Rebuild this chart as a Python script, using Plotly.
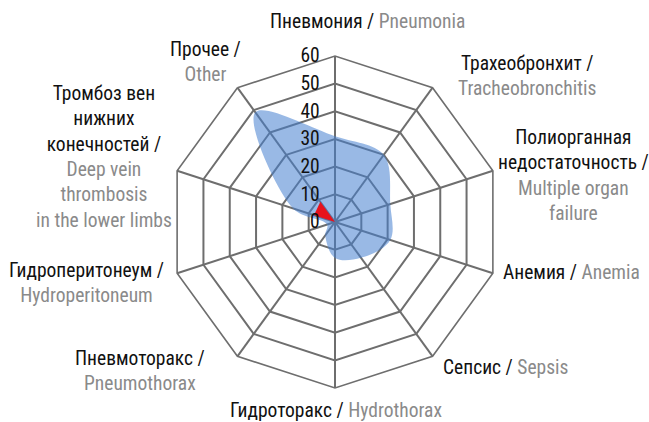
import plotly.graph_objects as go

# Complication categories, clockwise from the top
categories_ru = ["Пневмония", "Трахеобронхит", "Полиорганная недостаточность", "Анемия",
                 "Сепсис", "Гидроторакс", "Пневмоторакс", "Гидроперитонеум",
                 "Тромбоз вен нижних конечностей", "Прочее"]
categories_en = ["Pneumonia", "Tracheobronchitis", "Multiple organ failure", "Anemia",
                 "Sepsis", "Hydrothorax", "Pneumothorax", "Hydroperitoneum",
                 "Deep vein thrombosis in the lower limbs", "Other"]

# Two series of values (%)
series_blue = [31, 30, 21, 21, 16, 13, 6, 3, 16, 49]
series_red = [0, 0, 0, 0, 0, 0, 0, 0, 8, 9]

radial_ticks = [0, 10, 20, 30, 40, 50, 60]

# Line-broken label texts: Russian part in black, English part in grey
label_lines_ru = [["Пневмония /"], ["Трахеобронхит /"], ["Полиорганная", "недостаточность /"],
                  ["Анемия /"], ["Сепсис /"], ["Гидроторакс /"], ["Пневмоторакс /"],
                  ["Гидроперитонеум /"], ["Тромбоз вен", "нижних", "конечностей /"], ["Прочее /"]]
label_lines_en = [["Pneumonia"], ["Tracheobronchitis"], ["Multiple organ", "failure"],
                  ["Anemia"], ["Sepsis"], ["Hydrothorax"], ["Pneumothorax"],
                  ["Hydroperitoneum"], ["Deep vein", "thrombosis", "in the lower limbs"], ["Other"]]
single_line = [True, False, False, True, True, True, False, False, False, False]

W, H = 649, 422
FONT = "Roboto Condensed, Liberation Sans Narrow, Roboto, sans-serif"
FS = 19.5
GRID = "#6e6e6e"
GREY_TXT = "#8a8a8a"

theta = categories_en + [categories_en[0]]

fig = go.Figure()
fig.add_trace(go.Scatterpolar(
    r=series_blue + [series_blue[0]], theta=theta,
    mode="lines", fill="toself",
    line=dict(shape="spline", smoothing=1, width=0, color="rgba(0,0,0,0)"),
    fillcolor="rgba(70,128,208,0.55)",
    name="blue", hoverinfo="skip"))
fig.add_trace(go.Scatterpolar(
    r=series_red + [series_red[0]], theta=theta,
    mode="lines", fill="toself",
    line=dict(width=0, color="rgba(0,0,0,0)"),
    fillcolor="#e8121c",
    name="red", hoverinfo="skip"))

# Polar area: center (335, 222) px, radius 166 px
cx, cy, R = 335, 222, 166
dom_x = [(cx - R) / W, (cx + R) / W]
dom_y = [1 - (cy + R) / H, 1 - (cy - R) / H]

fig.update_layout(
    width=W, height=H,
    margin=dict(l=0, r=0, t=0, b=0),
    paper_bgcolor="white", plot_bgcolor="white",
    showlegend=False,
    font=dict(family=FONT, size=FS, color="#111"),
    polar=dict(
        domain=dict(x=dom_x, y=dom_y),
        bgcolor="white",
        gridshape="linear",
        angularaxis=dict(
            direction="clockwise", rotation=90,
            categoryorder="array", categoryarray=categories_en,
            showticklabels=False, ticks="",
            gridcolor=GRID, gridwidth=1.6,
            showline=True, linecolor=GRID, linewidth=1.6,
        ),
        radialaxis=dict(
            range=[0, 60], tickvals=radial_ticks,
            angle=90, side="counterclockwise", tickangle=90,
            showline=False, ticks="outside", ticklen=8,
            tickcolor="rgba(0,0,0,0)",
            gridcolor=GRID, gridwidth=1.6,
            tickfont=dict(family=FONT, size=FS, color="#111"),
        ),
    ),
)

# Category label anchors (px centres)
label_pos = [(367, 22), (527, 76), (573, 175), (571, 272), (505, 367),
             (336, 410), (140, 371), (86, 283), (104, 157), (205, 62)]

for i in range(len(categories_ru)):
    ru = label_lines_ru[i]
    en = label_lines_en[i]
    grey = lambda s: f"<span style='color:{GREY_TXT}'>{s}</span>"
    if single_line[i]:
        text = ru[0] + " " + grey(en[0])
    else:
        text = "<br>".join(ru) + "<br>" + "<br>".join(grey(s) for s in en)
    x, y = label_pos[i]
    fig.add_annotation(
        x=x / W, y=1 - y / H, xref="paper", yref="paper",
        text=text, showarrow=False, xanchor="center", yanchor="middle",
        align="center", borderpad=0,
        font=dict(family=FONT, size=FS, color="#111"))

fig.write_html("out.html")
